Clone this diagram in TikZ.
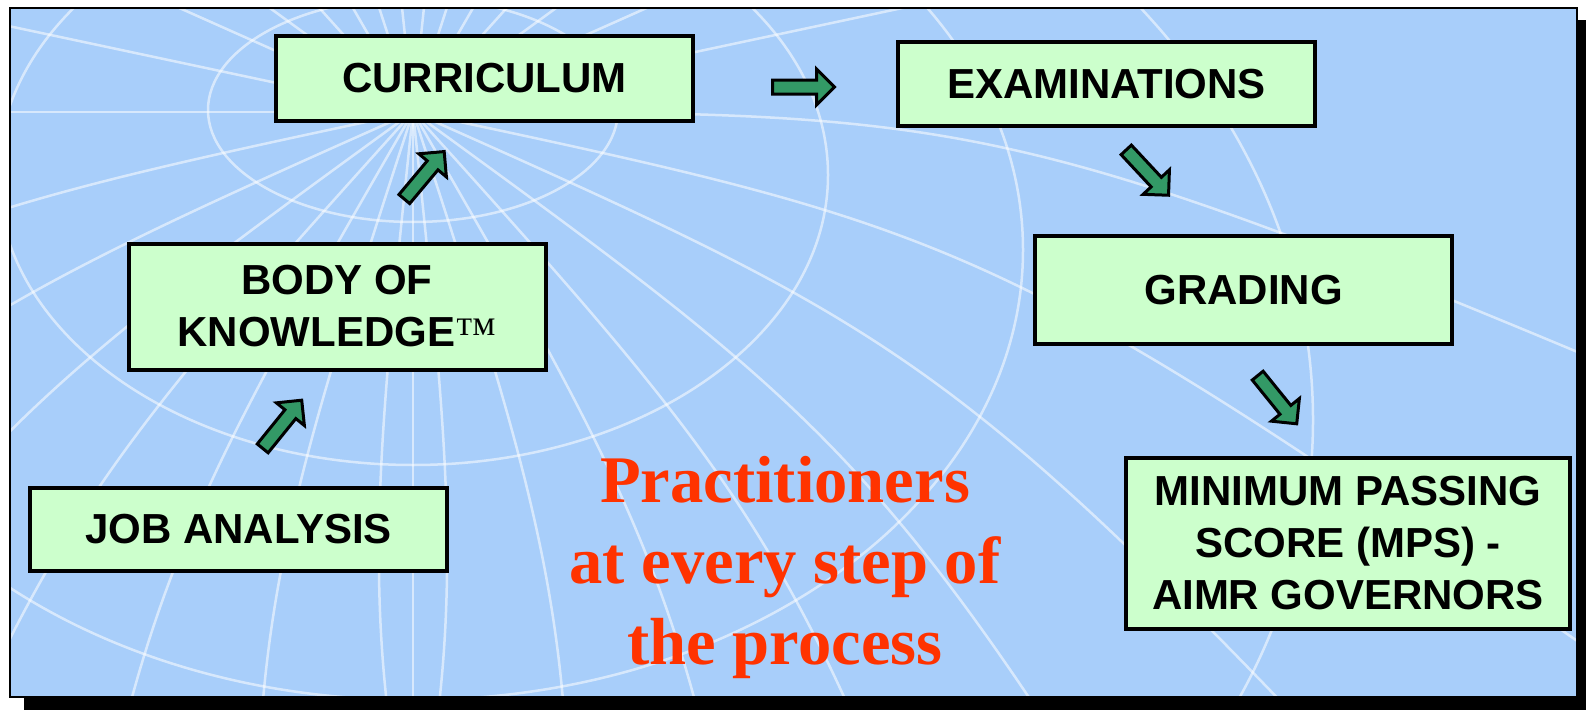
\documentclass[tikz,border=0pt]{standalone}
\usepackage{fontspec}
\setmainfont{Liberation Sans}
\newfontfamily\tmfont{Liberation Serif}
\newfontfamily\practfont{Liberation Serif}
\usetikzlibrary{shapes.arrows, positioning, calc}

\definecolor{globeblue}{RGB}{168,206,250}
\definecolor{boxgreen}{RGB}{204,255,204}
\definecolor{arrowgreen}{RGB}{51,153,102}
\definecolor{practred}{RGB}{255,51,0}

\begin{document}
\begin{tikzpicture}[
    x=1pt, y=-1pt,
    stage/.style={draw, line width=4pt, fill=boxgreen, minimum width=417pt, align=center, font=\bfseries\fontsize{42}{52}\selectfont, inner sep=0pt},
    flowarrow/.style={single arrow, draw, line width=3pt, fill=arrowgreen, inner sep=0pt, text height=11pt, text depth=0pt, single arrow head extend=11pt, single arrow tip angle=90, minimum height=62pt},
    globeline/.style={white, opacity=0.55, line width=2.5pt}
]
\useasboundingbox (0,0) rectangle (1586,709);

% Frame with shadow
\fill[black] (24,20) rectangle (1592,714);
\fill[globeblue] (10,8) rectangle (1577,697);

% Globe grid
\coordinate (pole) at (413,112);
\begin{scope}
  \clip (10,8) rectangle (1577,697);
  \foreach \ang in {180,192,...,348}
    \draw[globeline] (pole) -- ++(\ang:1800);
  \foreach \ang in {0,12,...,84}
    \draw[globeline] (pole) .. controls ($(pole)+(\ang:600)$) .. ($(pole)+(\ang+14:1500)$);
  \foreach \ang in {96,108,...,168}
    \draw[globeline] (pole) .. controls ($(pole)+(\ang:600)$) .. ($(pole)+(\ang-14:1500)$);
  \draw[globeline] (pole) -- ++(90:1400);
  \draw[globeline] (413,110) ellipse [x radius=205, y radius=112];
  \draw[globeline] (413,175) ellipse [x radius=415, y radius=290];
  \draw[globeline] (413,250) ellipse [x radius=610, y radius=450];
  \draw[globeline] (413,420) ellipse [x radius=900, y radius=700];
\end{scope}
\draw[line width=1.2pt] (10,8) rectangle (1577,697);

% Stages
\node[stage, minimum height=85pt] (curr) at (484.5,78.5) {CURRICULUM};
\node[stage, minimum height=84pt] (exam) at (1106.5,84) {EXAMINATIONS};
\node[stage, minimum height=126pt] (body) at (337,306.5) {BODY OF\\KNOWLEDGE{\tmfont\mdseries ™}};
\node[stage, minimum height=108pt] (grad) at (1243.5,290) {GRADING};
\node[stage, minimum height=83pt] (job) at (238.5,529.5) {JOB ANALYSIS};
\node[stage, minimum width=444pt, minimum height=171pt] (mps) at (1348,543.5) {MINIMUM PASSING\\SCORE (MPS) -\\AIMR GOVERNORS};

% Block arrows
\node[flowarrow] (a1) at (800,87) {};
\node[flowarrow, rotate=50] (a2) at (422,178) {};
\node[flowarrow, rotate=51] (a3) at (280,427) {};
\node[flowarrow, rotate=-47] (a4) at (1145,170) {};
\node[flowarrow, rotate=-51] (a5) at (1275,397) {};

% Caption
\node[text=practred, font=\practfont\bfseries\fontsize{66.6}{81}\selectfont, align=center, inner sep=0pt] (pract) at (785,567) {Practitioners\\at every step of\\the process};

\end{tikzpicture}
\end{document}
